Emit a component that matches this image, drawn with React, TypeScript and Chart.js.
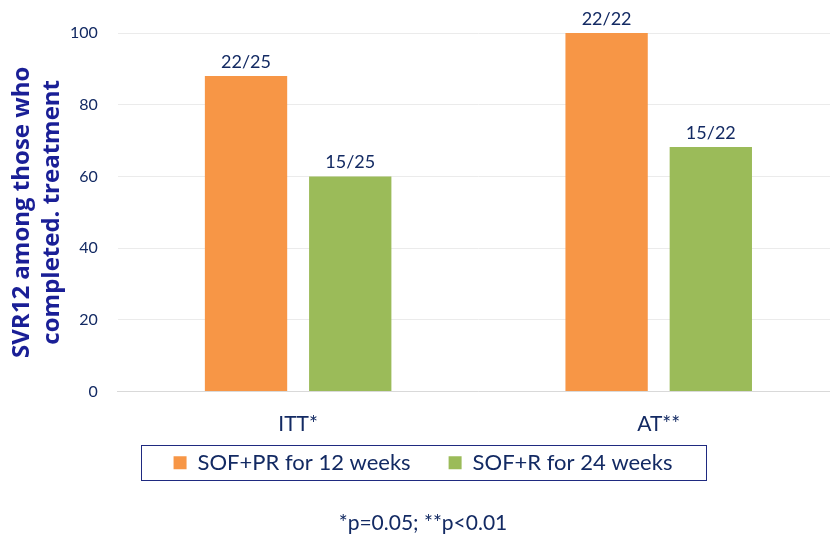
import React, { useEffect, useRef } from "react";
import { Chart, registerables } from "chart.js";

Chart.register(...registerables);

const categories = ["ITT*", "AT**"];
const seriesNames = ["SOF+PR for 12 weeks", "SOF+R for 24 weeks"];
const sofPR12 = [88, 100];
const sofR24 = [60, 68.2];
const labelsPR12 = ["22/25", "22/22"];
const labelsR24 = ["15/25", "15/22"];
const yTicks = [0, 20, 40, 60, 80, 100];
const yTitle = ["SVR12 among those who", "completed. treatment"];
const footnote = "*p=0.05; **p<0.01";

const NAVY = "#132a63";
const TITLE_NAVY = "#1a1f96";
const ORANGE = "#f79646";
const GREEN = "#9bbb59";
const FONT = "Lato, 'Open Sans', sans-serif";
const LEGEND_PAD = 38;
const LEGEND_FONT = 22;
const LEGEND_SHRINK = 13;
const LEGEND_SHIFT = 35;

const barLabelPlugin = {
  id: "barLabels",
  afterDatasetsDraw(chart: any) {
    const ctx = chart.ctx;
    const all = [labelsPR12, labelsR24];
    ctx.save();
    ctx.font = `18px ${FONT}`;
    ctx.fillStyle = NAVY;
    ctx.textAlign = "center";
    ctx.textBaseline = "bottom";
    chart.data.datasets.forEach((ds: any, i: number) => {
      const meta = chart.getDatasetMeta(i);
      meta.data.forEach((bar: any, j: number) => {
        ctx.fillText(all[i][j], bar.x, bar.y - 5);
      });
    });
    ctx.restore();
  },
};

// tightens the legend row, moves its top up so the row sits in the gap, and frames it
const legendBoxPlugin = {
  id: "legendBox",
  beforeLayout(chart: any) {
    const lg = chart.legend;
    if (!lg || lg._shrunk) return;
    const fit = lg.fit;
    lg.fit = function () {
      fit.call(this);
      this.height -= LEGEND_SHRINK;
    };
    lg._shrunk = true;
  },
  afterLayout(chart: any) {
    const lg = chart.legend;
    if (!lg) return;
    lg.top -= LEGEND_SHIFT;
  },
  afterDraw(chart: any) {
    const lg = chart.legend;
    if (!lg) return;
    const ctx = chart.ctx;
    const cx = lg.left + lg.width / 2;
    const cy = lg.top + LEGEND_PAD + LEGEND_FONT / 2;
    const w = 565;
    const h = 35;
    ctx.save();
    ctx.strokeStyle = "#1f2a80";
    ctx.lineWidth = 1;
    ctx.strokeRect(Math.round(cx - w / 2) + 0.5, Math.round(cy - h / 2) + 0.5, w, h);
    ctx.restore();
  },
};

export default function App() {
  const ref = useRef<HTMLCanvasElement | null>(null);
  useEffect(() => {
    if (!ref.current) return;
    const chart = new Chart(ref.current, {
      type: "bar",
      data: {
        labels: categories,
        datasets: [
          { label: seriesNames[0], data: sofPR12, backgroundColor: ORANGE },
          { label: seriesNames[1], data: sofR24, backgroundColor: GREEN },
        ],
      },
      options: {
        animation: false,
        responsive: false,
        maintainAspectRatio: false,
        layout: { padding: { top: 33, right: 6, left: 7, bottom: 4 } },
        datasets: { bar: { categoryPercentage: 0.578, barPercentage: 0.79 } },
        scales: {
          x: {
            grid: { display: false },
            border: { color: "#d9d9d9" },
            ticks: { color: NAVY, font: { family: FONT, size: 21 }, padding: 12 },
          },
          y: {
            min: 0,
            max: 100,
            afterBuildTicks: (axis: any) => {
              axis.ticks = yTicks.map((v) => ({ value: v }));
            },
            afterFit: (axis: any) => {
              axis.width -= 17;
            },
            grid: { color: "#ebebeb", drawTicks: false },
            border: { display: false },
            ticks: { color: NAVY, font: { family: FONT, size: 16 }, padding: 20 },
            title: {
              display: true,
              text: yTitle,
              color: TITLE_NAVY,
              font: { family: "'Open Sans', sans-serif", size: 24, weight: "bold", lineHeight: 1.25 },
              padding: { top: 0, bottom: 0 },
            },
          },
        },
        plugins: {
          legend: {
            position: "bottom",
            labels: {
              color: NAVY,
              font: { family: FONT, size: LEGEND_FONT },
              boxWidth: 13,
              boxHeight: 13,
              padding: LEGEND_PAD,
            },
          },
          subtitle: {
            display: true,
            position: "bottom",
            text: footnote,
            color: NAVY,
            font: { family: FONT, size: 21, weight: "normal" },
            padding: { top: 5, bottom: 0 },
          },
          tooltip: { enabled: false },
        },
      },
      plugins: [barLabelPlugin, legendBoxPlugin],
    });
    return () => chart.destroy();
  }, []);
  return (
    <div style={{ position: "fixed", left: 0, top: 0, width: 830, height: 540, overflow: "hidden", background: "#fff" }}>
      <canvas ref={ref} width={845} height={540} style={{ display: "block" }} />
    </div>
  );
}
